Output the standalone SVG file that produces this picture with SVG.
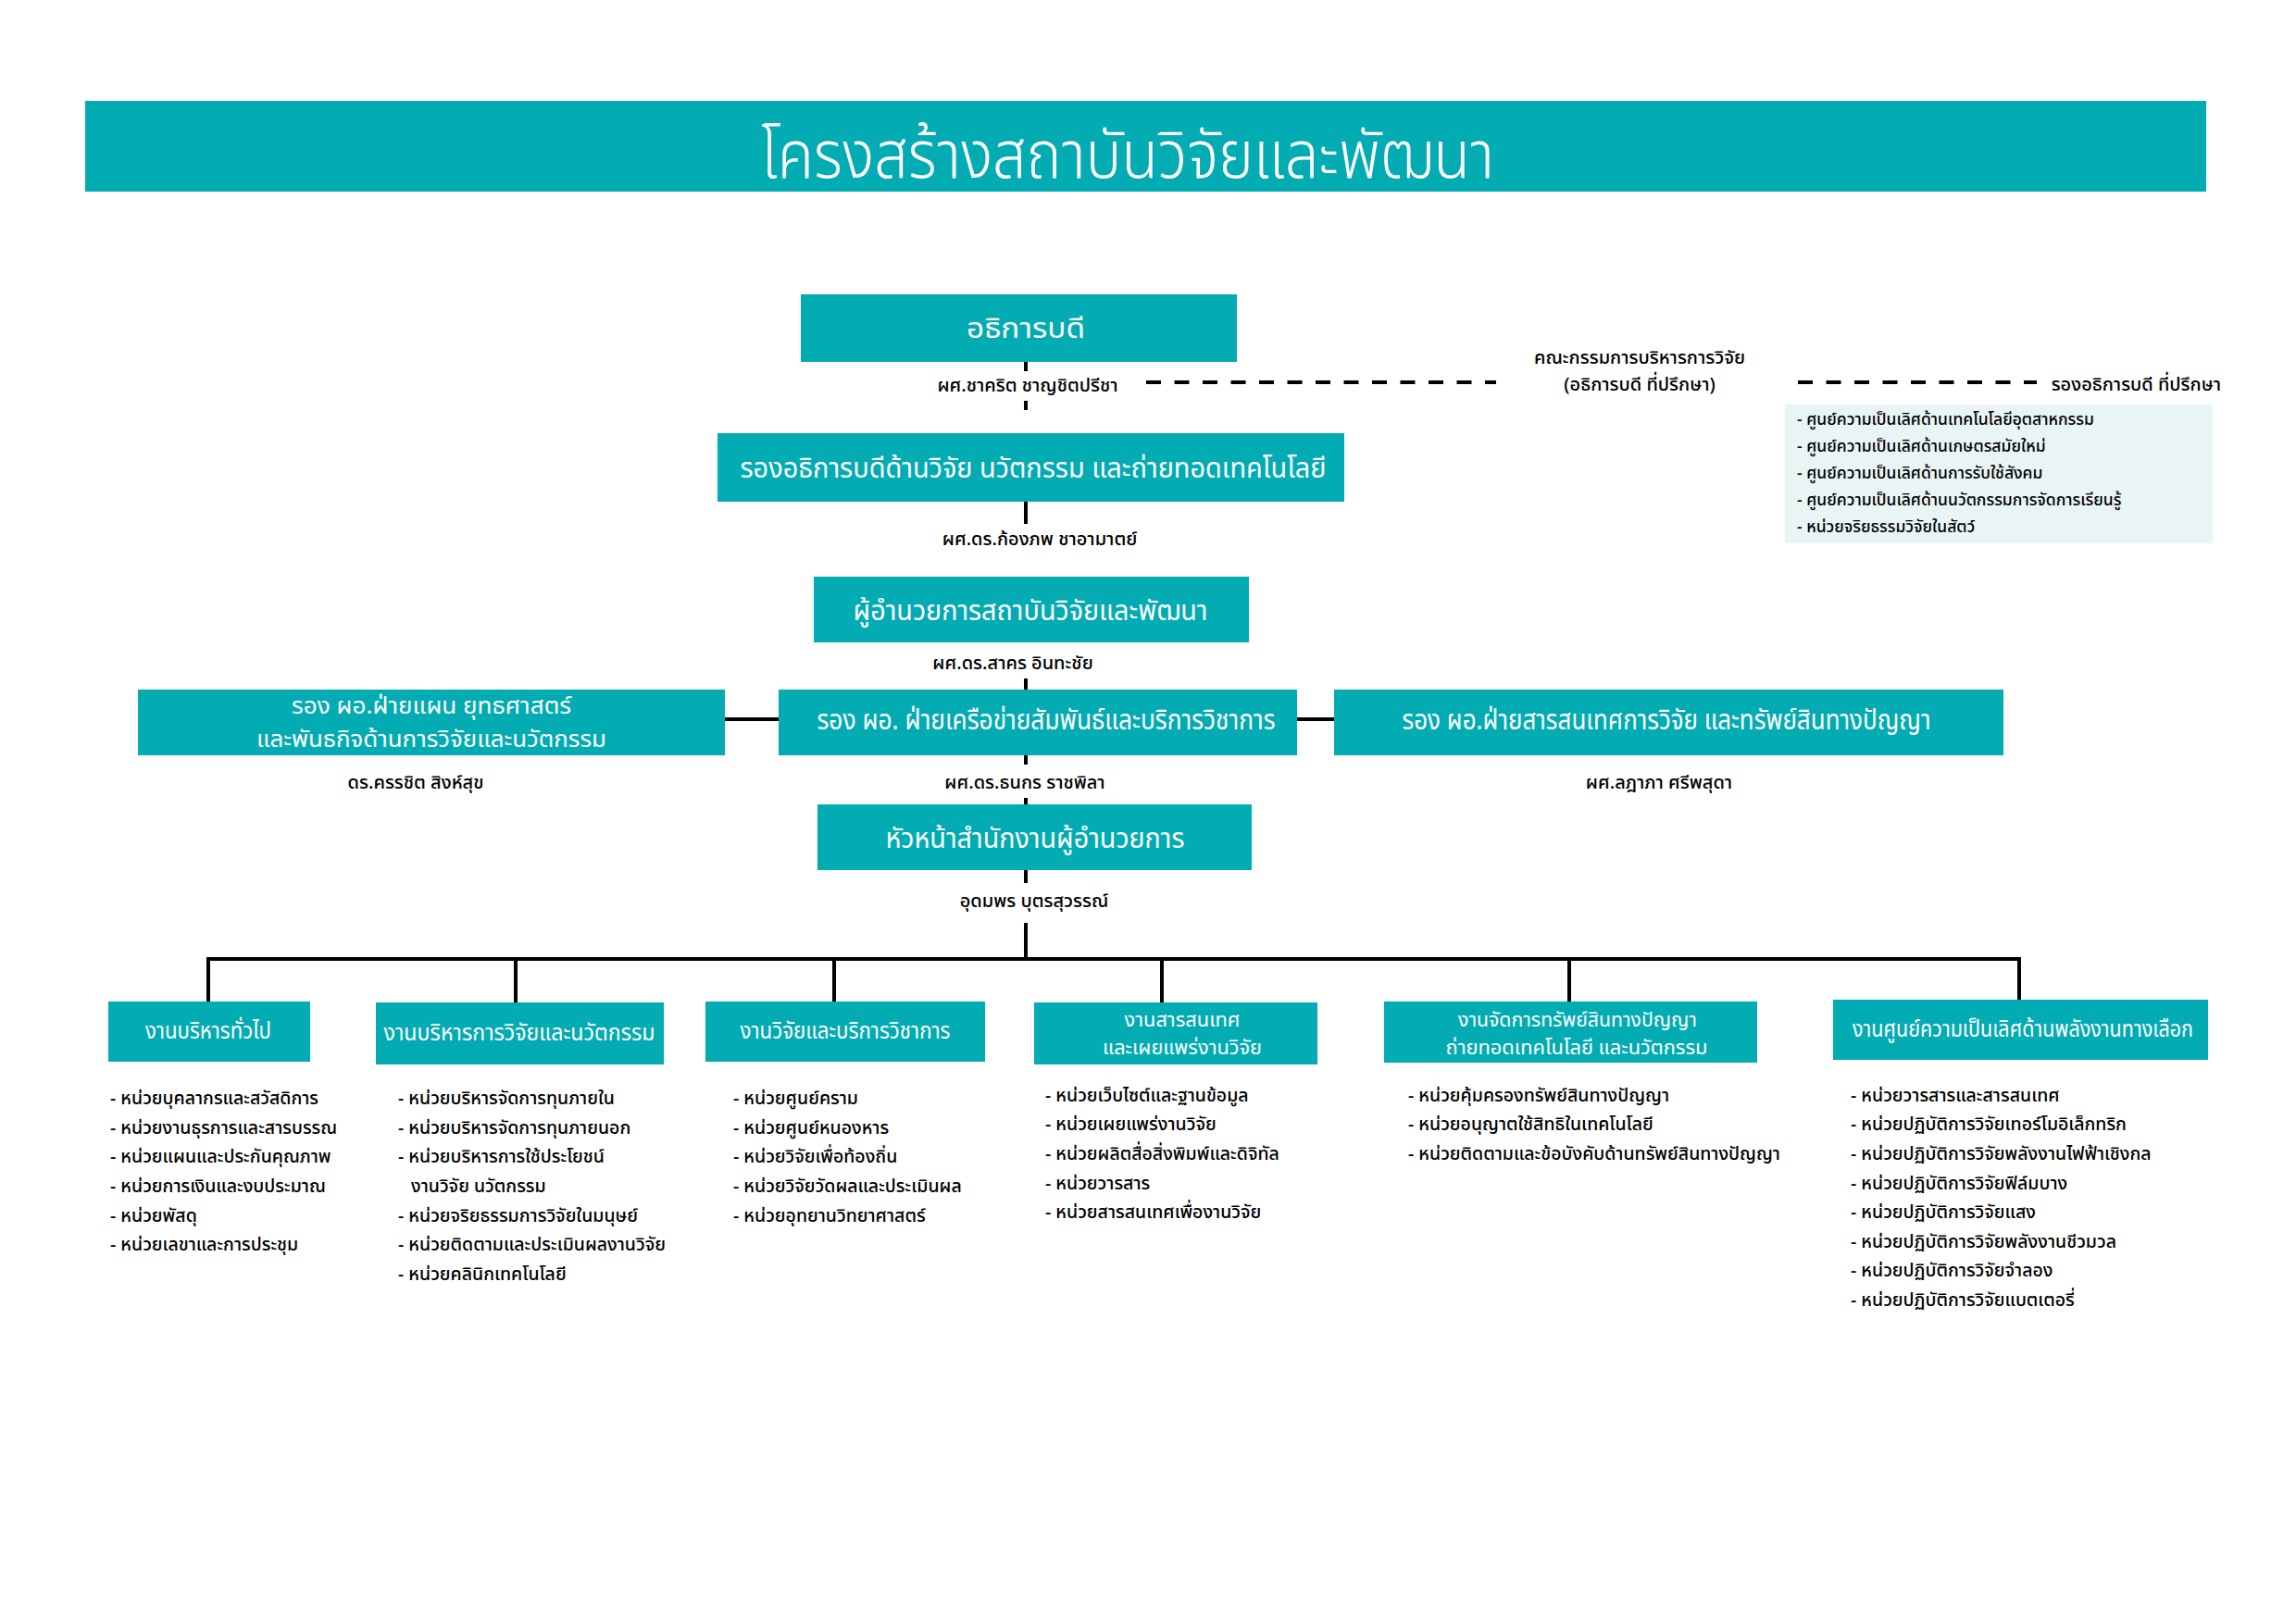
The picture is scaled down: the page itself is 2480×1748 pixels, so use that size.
<svg xmlns="http://www.w3.org/2000/svg" width="2480" height="1748" viewBox="0 0 2480 1748">
<style>
.box{fill:#03abb2}
text{font-family:"Noto Sans Thai","Noto Sans","DejaVu Sans",sans-serif}
.ttl{fill:#fff;font-size:72px;text-anchor:middle;font-weight:300}
.wt{fill:#fff;text-anchor:middle;font-size:30px}
.w2{fill:#fff;text-anchor:middle;font-size:25.5px}
.ws{fill:#fff;text-anchor:middle;font-size:24px}
.wd{fill:#fff;text-anchor:middle;font-size:20.5px}
.nm{fill:#000;text-anchor:middle;font-size:20px;font-weight:500}
.li{fill:#000;font-size:19.5px;font-weight:500}
.ls{fill:#000;font-size:17.5px;font-weight:500}
.ln{stroke:#000;stroke-width:4;fill:none}
.dash{stroke:#000;stroke-width:4;fill:none;stroke-dasharray:16 14.5}
</style>
<rect x="0" y="0" width="2480" height="1748" fill="#fff"/>
<g id="title">
<rect class="box" x="92" y="109" width="2291" height="98"/>
<text class="ttl" x="1218" y="192" textLength="792" lengthAdjust="spacingAndGlyphs">โครงสร้างสถาบันวิจัยและพัฒนา</text>
</g>
<g id="connectors">
<line class="ln" x1="1108" y1="391" x2="1108" y2="401"/>
<line class="ln" x1="1108" y1="433" x2="1108" y2="443"/>
<line class="ln" x1="1108" y1="542" x2="1108" y2="566"/>
<line class="ln" x1="1108" y1="733" x2="1108" y2="745"/>
<line class="ln" x1="1108" y1="816" x2="1108" y2="826"/>
<line class="ln" x1="1108" y1="862" x2="1108" y2="869"/>
<line class="ln" x1="1108" y1="940" x2="1108" y2="954"/>
<line class="ln" x1="1108" y1="997" x2="1108" y2="1036"/>
<line class="ln" x1="783" y1="777" x2="841" y2="777"/>
<line class="ln" x1="1401" y1="777" x2="1441" y2="777"/>
<line class="ln" x1="223" y1="1036" x2="2183" y2="1036"/>
<line class="ln" x1="225" y1="1036" x2="225" y2="1082"/>
<line class="ln" x1="557" y1="1036" x2="557" y2="1083"/>
<line class="ln" x1="901" y1="1036" x2="901" y2="1082"/>
<line class="ln" x1="1255" y1="1036" x2="1255" y2="1083"/>
<line class="ln" x1="1695" y1="1036" x2="1695" y2="1082"/>
<line class="ln" x1="2181" y1="1036" x2="2181" y2="1080"/>
<line class="dash" x1="1238" y1="413" x2="1616" y2="413"/>
<line class="dash" x1="1942" y1="413" x2="2200" y2="413"/>
</g>
<g id="president">
<rect class="box" x="865" y="318" width="471" height="73"/>
<text class="wt" x="1108" y="365" textLength="128" lengthAdjust="spacingAndGlyphs">อธิการบดี</text>
<text class="nm" x="1110" y="423">ผศ.ชาคริต ชาญชิตปรีชา</text>
</g>
<g id="committee">
<text class="nm" x="1771" y="393">คณะกรรมการบริหารการวิจัย</text>
<text class="nm" x="1771" y="422">(อธิการบดี ที่ปรึกษา)</text>
</g>
<g id="advisor">
<text class="nm" x="2399" y="422" style="text-anchor:end">รองอธิการบดี ที่ปรึกษา</text>
<rect x="1928" y="437" width="462" height="150" fill="#e9f4f5"/>
<text class="ls" x="1941" y="459">- ศูนย์ความเป็นเลิศด้านเทคโนโลยีอุตสาหกรรม</text>
<text class="ls" x="1941" y="488">- ศูนย์ความเป็นเลิศด้านเกษตรสมัยใหม่</text>
<text class="ls" x="1941" y="517">- ศูนย์ความเป็นเลิศด้านการรับใช้สังคม</text>
<text class="ls" x="1941" y="546">- ศูนย์ความเป็นเลิศด้านนวัตกรรมการจัดการเรียนรู้</text>
<text class="ls" x="1941" y="575">- หน่วยจริยธรรมวิจัยในสัตว์</text>
</g>
<g id="vp-research">
<rect class="box" x="775" y="468" width="677" height="74"/>
<text class="wt" x="1116" y="516" textLength="633" lengthAdjust="spacingAndGlyphs">รองอธิการบดีด้านวิจัย นวัตกรรม และถ่ายทอดเทคโนโลยี</text>
<text class="nm" x="1123" y="589">ผศ.ดร.ก้องภพ ชาอามาตย์</text>
</g>
<g id="director">
<rect class="box" x="879" y="623" width="470" height="71"/>
<text class="wt" x="1113" y="670" textLength="383" lengthAdjust="spacingAndGlyphs">ผู้อำนวยการสถาบันวิจัยและพัฒนา</text>
<text class="nm" x="1094" y="723">ผศ.ดร.สาคร อินทะชัย</text>
</g>
<g id="deputy-plan">
<rect class="box" x="149" y="745" width="634" height="71"/>
<text class="w2" x="466" y="771" textLength="302" lengthAdjust="spacingAndGlyphs">รอง ผอ.ฝ่ายแผน ยุทธศาสตร์</text>
<text class="w2" x="466" y="807" textLength="378" lengthAdjust="spacingAndGlyphs">และพันธกิจด้านการวิจัยและนวัตกรรม</text>
<text class="nm" x="449" y="852">ดร.ครรชิต  สิงห์สุข</text>
</g>
<g id="deputy-network">
<rect class="box" x="841" y="745" width="560" height="71"/>
<text class="wt" x="1130" y="788" textLength="495" lengthAdjust="spacingAndGlyphs">รอง ผอ. ฝ่ายเครือข่ายสัมพันธ์และบริการวิชาการ</text>
<text class="nm" x="1107" y="852">ผศ.ดร.ธนกร ราชพิลา</text>
</g>
<g id="deputy-info">
<rect class="box" x="1441" y="745" width="723" height="71"/>
<text class="wt" x="1800" y="788" textLength="571" lengthAdjust="spacingAndGlyphs">รอง ผอ.ฝ่ายสารสนเทศการวิจัย และทรัพย์สินทางปัญญา</text>
<text class="nm" x="1792" y="852">ผศ.ลฎาภา ศรีพสุดา</text>
</g>
<g id="office-head">
<rect class="box" x="883" y="869" width="469" height="71"/>
<text class="wt" x="1118" y="916" textLength="323" lengthAdjust="spacingAndGlyphs">หัวหน้าสำนักงานผู้อำนวยการ</text>
<text class="nm" x="1117" y="980">อุดมพร บุตรสุวรรณ์</text>
</g>
<g id="general-admin">
<rect class="box" x="117" y="1082" width="218" height="65"/>
<text class="ws" x="225" y="1122" textLength="136" lengthAdjust="spacingAndGlyphs">งานบริหารทั่วไป</text>
<text class="li" x="119" y="1193">- หน่วยบุคลากรและสวัสดิการ</text>
<text class="li" x="119" y="1225">- หน่วยงานธุรการและสารบรรณ</text>
<text class="li" x="119" y="1256">- หน่วยแผนและประกันคุณภาพ</text>
<text class="li" x="119" y="1288">- หน่วยการเงินและงบประมาณ</text>
<text class="li" x="119" y="1320">- หน่วยพัสดุ</text>
<text class="li" x="119" y="1351">- หน่วยเลขาและการประชุม</text>
</g>
<g id="research-admin">
<rect class="box" x="406" y="1083" width="311" height="67"/>
<text class="ws" x="561" y="1124" textLength="293" lengthAdjust="spacingAndGlyphs">งานบริหารการวิจัยและนวัตกรรม</text>
<text class="li" x="430" y="1193">- หน่วยบริหารจัดการทุนภายใน</text>
<text class="li" x="430" y="1225">- หน่วยบริหารจัดการทุนภายนอก</text>
<text class="li" x="430" y="1256">- หน่วยบริหารการใช้ประโยชน์</text>
<text class="li" x="444" y="1288">งานวิจัย นวัตกรรม</text>
<text class="li" x="430" y="1320">- หน่วยจริยธรรมการวิจัยในมนุษย์</text>
<text class="li" x="430" y="1351">- หน่วยติดตามและประเมินผลงานวิจัย</text>
<text class="li" x="430" y="1383">- หน่วยคลินิกเทคโนโลยี</text>
</g>
<g id="research-service">
<rect class="box" x="762" y="1082" width="302" height="65"/>
<text class="ws" x="913" y="1122" textLength="227" lengthAdjust="spacingAndGlyphs">งานวิจัยและบริการวิชาการ</text>
<text class="li" x="792" y="1193">- หน่วยศูนย์คราม</text>
<text class="li" x="792" y="1225">- หน่วยศูนย์หนองหาร</text>
<text class="li" x="792" y="1256">- หน่วยวิจัยเพื่อท้องถิ่น</text>
<text class="li" x="792" y="1288">- หน่วยวิจัยวัดผลและประเมินผล</text>
<text class="li" x="792" y="1320">- หน่วยอุทยานวิทยาศาสตร์</text>
</g>
<g id="info-dissemination">
<rect class="box" x="1117" y="1083" width="306" height="67"/>
<text class="wd" x="1277" y="1109" textLength="125" lengthAdjust="spacingAndGlyphs">งานสารสนเทศ</text>
<text class="wd" x="1277" y="1139" textLength="172" lengthAdjust="spacingAndGlyphs">และเผยแพร่งานวิจัย</text>
<text class="li" x="1129" y="1190">- หน่วยเว็บไซต์และฐานข้อมูล</text>
<text class="li" x="1129" y="1221">- หน่วยเผยแพร่งานวิจัย</text>
<text class="li" x="1129" y="1253">- หน่วยผลิตสื่อสิ่งพิมพ์และดิจิทัล</text>
<text class="li" x="1129" y="1285">- หน่วยวารสาร</text>
<text class="li" x="1129" y="1316">- หน่วยสารสนเทศเพื่องานวิจัย</text>
</g>
<g id="ip-management">
<rect class="box" x="1495" y="1082" width="403" height="66"/>
<text class="wd" x="1704" y="1109" textLength="258" lengthAdjust="spacingAndGlyphs">งานจัดการทรัพย์สินทางปัญญา</text>
<text class="wd" x="1703" y="1139" textLength="283" lengthAdjust="spacingAndGlyphs">ถ่ายทอดเทคโนโลยี และนวัตกรรม</text>
<text class="li" x="1521" y="1190">- หน่วยคุ้มครองทรัพย์สินทางปัญญา</text>
<text class="li" x="1521" y="1221">- หน่วยอนุญาตใช้สิทธิในเทคโนโลยี</text>
<text class="li" x="1521" y="1253">- หน่วยติดตามและข้อบังคับด้านทรัพย์สินทางปัญญา</text>
</g>
<g id="energy-center">
<rect class="box" x="1980" y="1080" width="405" height="65"/>
<text class="ws" x="2185" y="1120" textLength="368" lengthAdjust="spacingAndGlyphs">งานศูนย์ความเป็นเลิศด้านพลังงานทางเลือก</text>
<text class="li" x="1999" y="1190">- หน่วยวารสารและสารสนเทศ</text>
<text class="li" x="1999" y="1221">- หน่วยปฏิบัติการวิจัยเทอร์โมอิเล็กทริก</text>
<text class="li" x="1999" y="1253">- หน่วยปฏิบัติการวิจัยพลังงานไฟฟ้าเชิงกล</text>
<text class="li" x="1999" y="1285">- หน่วยปฏิบัติการวิจัยฟิล์มบาง</text>
<text class="li" x="1999" y="1316">- หน่วยปฏิบัติการวิจัยแสง</text>
<text class="li" x="1999" y="1348">- หน่วยปฏิบัติการวิจัยพลังงานชีวมวล</text>
<text class="li" x="1999" y="1379">- หน่วยปฏิบัติการวิจัยจำลอง</text>
<text class="li" x="1999" y="1411">- หน่วยปฏิบัติการวิจัยแบตเตอรี่</text>
</g>
</svg>
